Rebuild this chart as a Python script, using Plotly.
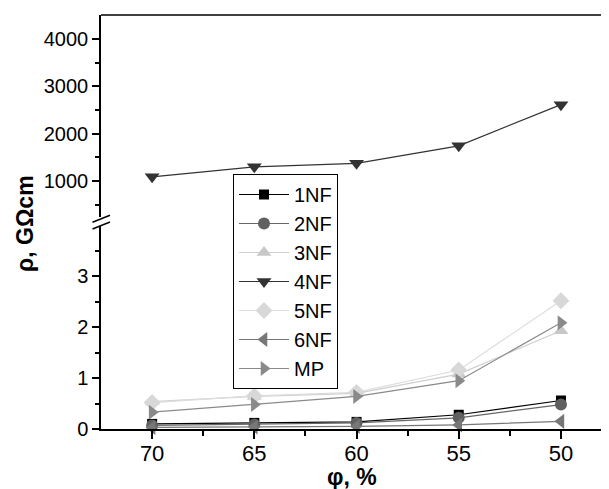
import plotly.graph_objects as go

phi = [70, 65, 60, 55, 50]
s1NF = [0.10, 0.12, 0.14, 0.28, 0.56]
s2NF = [0.07, 0.09, 0.12, 0.22, 0.48]
s3NF = [0.54, 0.64, 0.70, 1.08, 1.93]
s4NF = [1090, 1300, 1375, 1745, 2615]
s5NF = [0.52, 0.65, 0.72, 1.16, 2.52]
s6NF = [0.03, 0.04, 0.05, 0.08, 0.15]
sMP = [0.33, 0.48, 0.64, 0.95, 2.09]

names = ["1NF", "2NF", "3NF", "4NF", "5NF", "6NF", "MP"]
series = [s1NF, s2NF, s3NF, s4NF, s5NF, s6NF, sMP]
symbols = ["square", "circle", "triangle-up", "triangle-down", "diamond", "triangle-left", "triangle-right"]
mcolors = ["#000000", "#606060", "#c8c8c8", "#333333", "#d8d8d8", "#777777", "#8a8a8a"]
lcolors = ["#000000", "#666666", "#cfcfcf", "#333333", "#dddddd", "#777777", "#8a8a8a"]
sizes = [10, 12, 13, 13, 13, 13, 13]

fig = go.Figure()
for n, s, sym, mc, lc, sz in zip(names, series, symbols, mcolors, lcolors, sizes):
    fig.add_trace(go.Scatter(
        x=phi, y=s, name=n, mode="lines+markers",
        yaxis="y2" if n == "4NF" else "y",
        line=dict(color=lc, width=1.2),
        marker=dict(symbol=sym, size=sz, color=mc),
        cliponaxis=False,
    ))

# page offset (body margin) compensation
OFF = 8
W, H = 609, 489
# desired page coords of plot area
PL, PR, PT, PB = 101, 609, 15, 429
L, R, T, B = PL - OFF, W - (PR - OFF), PT - OFF, H - (PB - OFF)
pw, ph = W - L - R, H - T - B

def px(x):
    return (x - PL) / pw

def py(y):
    return (PB - y) / ph

lower_top = py(226)
upper_bot = py(217)

font = "Liberation Sans, Arial, sans-serif"
fig.update_layout(
    width=W, height=H,
    margin=dict(l=L, r=R, t=T, b=B),
    paper_bgcolor="white", plot_bgcolor="white",
    showlegend=True,
    legend=dict(
        x=px(233), y=py(174), xanchor="left", yanchor="top",
        bordercolor="#000", borderwidth=1, bgcolor="white",
        font=dict(family=font, size=20, color="#000"),
        tracegroupgap=0, itemwidth=50,
    ),
    xaxis=dict(
        range=[72.5, 47.65], tickvals=[70, 65, 60, 55, 50],
        ticks="outside", ticklen=8, tickwidth=1.5, tickcolor="#000",
        showline=True, linecolor="#000", linewidth=1.5,
        showgrid=False, zeroline=False, anchor="y",
        ticklabelstandoff=-4,
        tickfont=dict(family=font, size=22, color="#000"),
        minor=dict(tickvals=[67.5, 62.5, 57.5, 52.5], ticks="outside", ticklen=5, tickwidth=1.5, tickcolor="#000"),
    ),
    yaxis=dict(
        domain=[0, lower_top], range=[0, 3.99], tickvals=[0, 1, 2, 3],
        ticks="outside", ticklen=7, tickwidth=1.5, tickcolor="#000",
        showline=True, linecolor="#000", linewidth=1.5,
        showgrid=False, zeroline=False, anchor="x",
        tickfont=dict(family=font, size=20, color="#000"),
        minor=dict(tickvals=[0.5, 1.5, 2.5, 3.5], ticks="outside", ticklen=4, tickwidth=1.5, tickcolor="#000"),
    ),
    yaxis2=dict(
        domain=[upper_bot, 1], range=[240, 4510], tickvals=[1000, 2000, 3000, 4000],
        ticks="outside", ticklen=7, tickwidth=1.5, tickcolor="#000",
        showline=True, linecolor="#000", linewidth=1.5,
        showgrid=False, zeroline=False, anchor="x",
        tickfont=dict(family=font, size=20, color="#000"),
        minor=dict(tickvals=[500, 1500, 2500, 3500], ticks="outside", ticklen=4, tickwidth=1.5, tickcolor="#000"),
    ),
)

# top frame line
fig.add_shape(type="line", xref="paper", yref="paper", x0=0, x1=1, y0=1, y1=1,
              line=dict(color="#000", width=1.5))
# axis-break slashes
for yc in (218.8, 225.5):
    fig.add_shape(type="line", xref="paper", yref="paper",
                  x0=px(92.5), y0=py(yc + 3.5), x1=px(110), y1=py(yc - 3.5),
                  line=dict(color="#000", width=1.5))

fig.add_annotation(text="<b>φ, %</b>", xref="paper", yref="paper",
                   x=px(352), y=py(477), showarrow=False,
                   xanchor="center", yanchor="middle",
                   font=dict(family=font, size=23, color="#000"))
fig.add_annotation(text="<b>ρ, GΩcm</b>", xref="paper", yref="paper",
                   x=px(25), y=py(224), showarrow=False, textangle=-90,
                   xanchor="center", yanchor="middle",
                   font=dict(family=font, size=23, color="#000"))

fig.write_html("out.html")
